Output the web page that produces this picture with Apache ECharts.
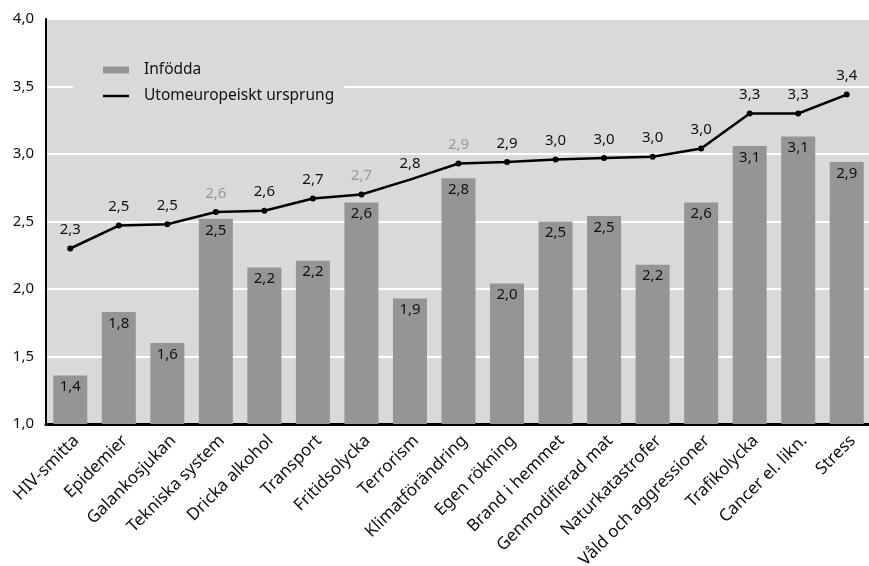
<!DOCTYPE html>
<html><head><meta charset="utf-8">
<script src="https://cdn.jsdelivr.net/npm/echarts@6/dist/echarts.min.js"></script>
<style>html,body{margin:0;padding:0;background:#fff}#c{width:869px;height:566px}</style>
</head><body><div id="c"></div>
<script>
const categories = ["HIV-smitta","Epidemier","Galankosjukan","Tekniska system","Dricka alkohol","Transport","Fritidsolycka","Terrorism","Klimatförändring","Egen rökning","Brand i hemmet","Genmodifierad mat","Naturkatastrofer","Våld och aggressioner","Trafikolycka","Cancer el. likn.","Stress"];
const infodda = [1.36,1.83,1.60,2.52,2.16,2.21,2.64,1.93,2.82,2.04,2.50,2.54,2.18,2.64,3.06,3.13,2.94];
const utomeuropeiskt = [2.30,2.47,2.48,2.57,2.58,2.67,2.70,2.81,2.93,2.94,2.96,2.97,2.98,3.04,3.30,3.30,3.44];
const greyLabelIdx = [3,6,8];
const noMarkerIdx = [7];
const yTicks = {min:1, max:4, interval:0.5};

const FONT = 'Noto Sans';
const fmt = v => (Math.round(v*10)/10).toFixed(1).replace('.', ',');

const lineData = utomeuropeiskt.map((v,i) => {
  const d = {value: v};
  if (greyLabelIdx.includes(i)) d.label = {color:'#999999'};
  if (noMarkerIdx.includes(i)) { d.symbolSize = 0; }
  return d;
});

const chart = echarts.init(document.getElementById('c'));
chart.setOption({
  animation:false,
  textStyle:{fontFamily:FONT},
  grid:{left:46,right:-2,top:19,bottom:142,show:true,backgroundColor:'#d9d9d9',borderWidth:0,containLabel:false,outerBoundsMode:'none'},
  legend:{
    orient:'vertical', left:73, top:52,
    backgroundColor:'#d9d9d9',
    padding:[10,10,10,30],
    itemGap:10, itemWidth:26, itemHeight:15,
    textStyle:{fontFamily:FONT,fontSize:15.5,color:'#111',padding:[0,0,0,10]},
    data:[
      {name:'Infödda', icon:'path://M0,0H26V7H0Z', itemStyle:{color:'#959595'}},
      {name:'Utomeuropeiskt ursprung', icon:'path://M0,0H26V2.4H0Z', itemStyle:{color:'#000'}}
    ]
  },
  xAxis:{
    type:'category', data:categories,
    axisLine:{lineStyle:{color:'#000',width:3}},
    axisTick:{show:false},
    axisLabel:{rotate:45,fontSize:17,color:'#111',margin:8,interval:0,verticalAlign:'top',fontFamily:FONT}
  },
  yAxis:{
    type:'value', min:yTicks.min, max:yTicks.max, interval:yTicks.interval,
    axisLine:{show:true,lineStyle:{color:'#000',width:2}},
    axisTick:{show:false},
    splitLine:{lineStyle:{color:'#ffffff',width:2}},
    axisLabel:{formatter:v=>v.toFixed(1).replace('.',','),fontSize:15,color:'#111',margin:12,fontFamily:FONT}
  },
  series:[
    {
      name:'Infödda', type:'bar', data:infodda, barWidth:34,
      itemStyle:{color:'#959595'},
      label:{show:true,position:'insideTop',distance:4,fontSize:15,color:'#111',formatter:p=>fmt(p.value),fontFamily:FONT}
    },
    {
      name:'Utomeuropeiskt ursprung', type:'line', data:lineData,
      lineStyle:{color:'#000',width:2.5},
      itemStyle:{color:'#000'},
      symbol:'circle', symbolSize:6, showAllSymbol:true,
      label:{show:true,position:'top',distance:8,fontSize:15,color:'#111',formatter:p=>fmt(p.value),fontFamily:FONT}
    }
  ]
});
</script></body></html>
